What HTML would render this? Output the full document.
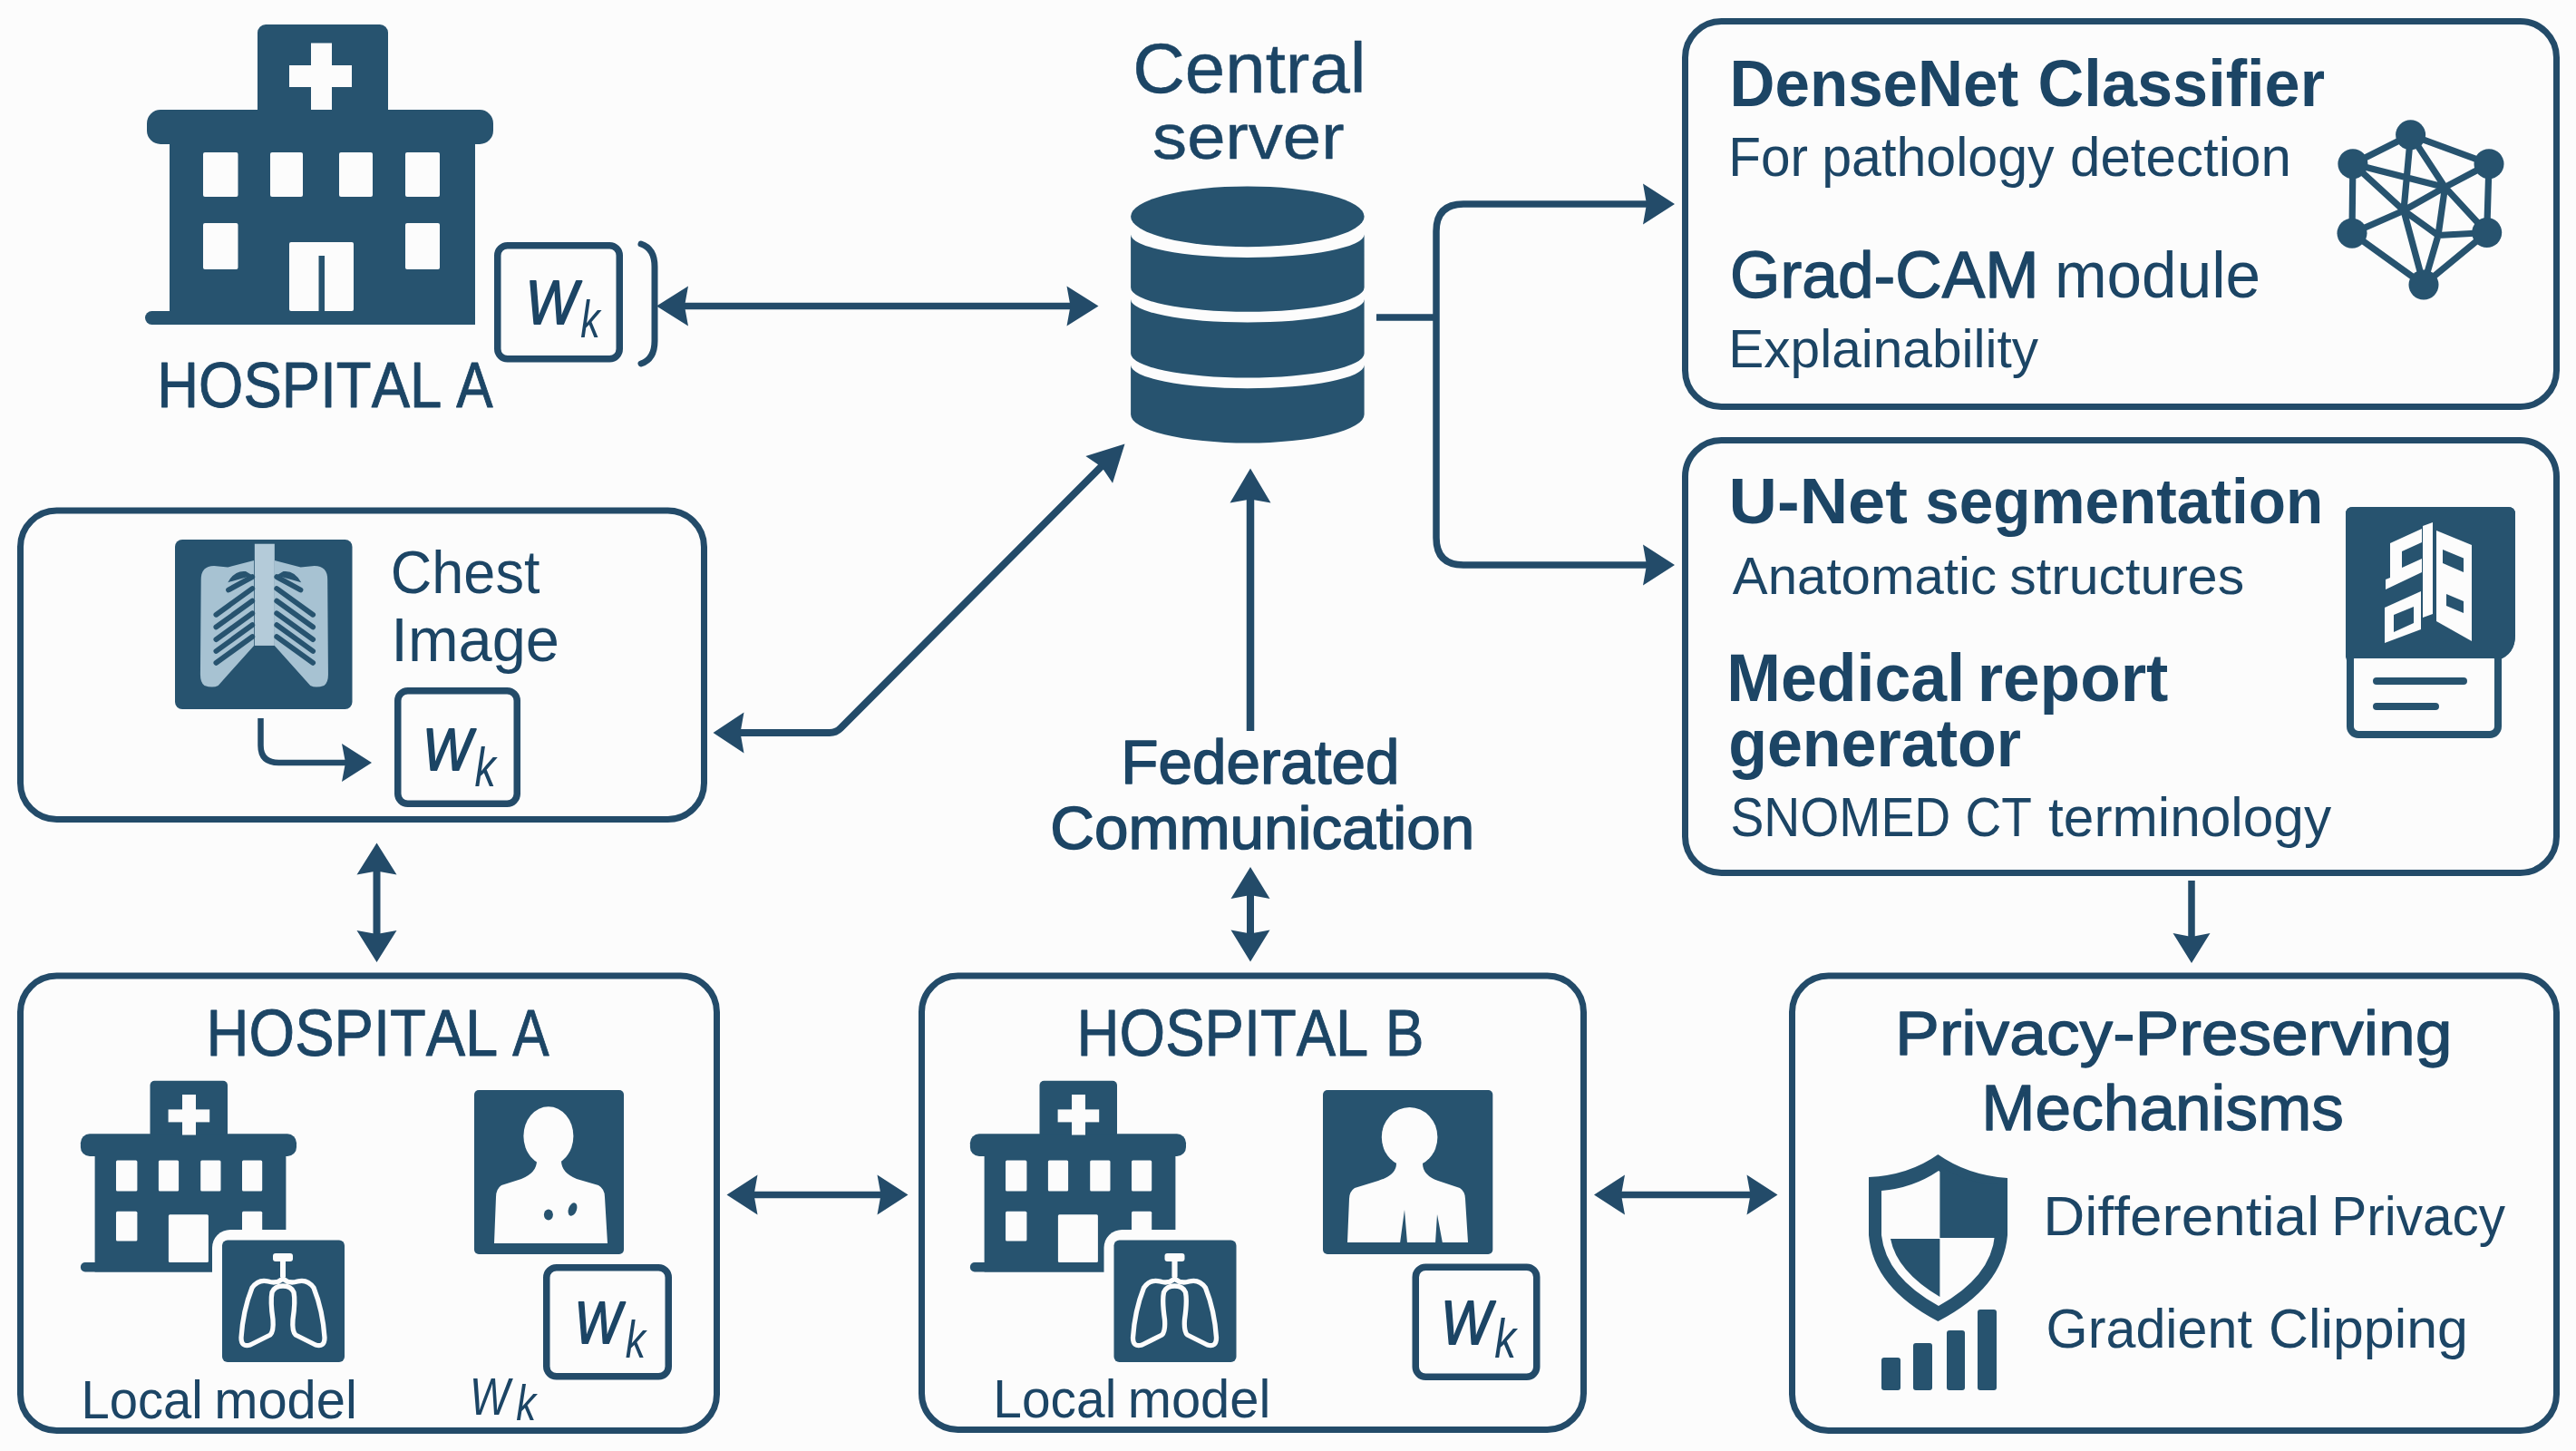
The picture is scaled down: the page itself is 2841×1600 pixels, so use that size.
<!DOCTYPE html>
<html><head><meta charset="utf-8"><style>
html,body{margin:0;padding:0;background:#fcfcfc;}
svg{display:block;}
text{font-family:"Liberation Sans",sans-serif;font-kerning:none;font-variant-ligatures:none;}
</style></head><body>
<svg width="2841" height="1600" viewBox="0 0 2841 1600">
<rect width="2841" height="1600" fill="#fcfcfc"/>
<rect x="1858.5" y="23.5" width="961" height="425" rx="40" fill="none" stroke="#234b69" stroke-width="7"/>
<rect x="1858.5" y="485.5" width="961" height="477" rx="40" fill="none" stroke="#234b69" stroke-width="7"/>
<rect x="22.5" y="563.0" width="754" height="340.5" rx="40" fill="none" stroke="#234b69" stroke-width="7"/>
<rect x="22.5" y="1076.0" width="768" height="501.5" rx="40" fill="none" stroke="#234b69" stroke-width="7"/>
<rect x="1016.5" y="1076.0" width="730" height="500.5" rx="40" fill="none" stroke="#234b69" stroke-width="7"/>
<rect x="1976.5" y="1076.0" width="843" height="501.5" rx="40" fill="none" stroke="#234b69" stroke-width="7"/>
<line x1="740" y1="337.5" x2="1195" y2="337.5" stroke="#234b69" stroke-width="7.5"/>
<polygon points="724.00,337.50 759.00,315.50 755.00,337.50 759.00,359.50" fill="#234b69"/>
<polygon points="1211.50,337.50 1176.50,359.50 1180.50,337.50 1176.50,315.50" fill="#234b69"/>
<path d="M707 269 Q722 274 722 294 V376 Q722 396 707 401" fill="none" stroke="#234b69" stroke-width="7" stroke-linecap="round"/>
<path d="M1518 350 H1584 M1820 225 H1614 Q1584 225 1584 255 V593 Q1584 623 1614 623 H1820" fill="none" stroke="#234b69" stroke-width="7.5"/>
<polygon points="1847.00,225.00 1812.00,247.50 1816.00,225.00 1812.00,202.50" fill="#234b69"/>
<polygon points="1847.00,623.00 1812.00,645.50 1816.00,623.00 1812.00,600.50" fill="#234b69"/>
<path d="M800 808 H915 Q922 808 927 803 L1222 507" fill="none" stroke="#234b69" stroke-width="8"/>
<polygon points="786.50,808.00 820.50,785.50 816.50,808.00 820.50,830.50" fill="#234b69"/>
<polygon points="1240.50,489.50 1227.06,532.63 1215.04,514.96 1197.37,502.94" fill="#234b69"/>
<line x1="1379" y1="806" x2="1379" y2="540" stroke="#234b69" stroke-width="8.5"/>
<polygon points="1379.00,516.50 1401.50,554.50 1379.00,550.50 1356.50,554.50" fill="#234b69"/>
<line x1="1379" y1="975" x2="1379" y2="1040" stroke="#234b69" stroke-width="8"/>
<polygon points="1379.00,956.00 1400.50,991.00 1379.00,987.00 1357.50,991.00" fill="#234b69"/>
<polygon points="1379.00,1060.50 1357.50,1025.50 1379.00,1029.50 1400.50,1025.50" fill="#234b69"/>
<line x1="415.5" y1="950" x2="415.5" y2="1040" stroke="#234b69" stroke-width="8"/>
<polygon points="415.50,929.50 437.50,964.50 415.50,960.50 393.50,964.50" fill="#234b69"/>
<polygon points="415.50,1061.00 393.50,1026.00 415.50,1030.00 437.50,1026.00" fill="#234b69"/>
<line x1="820" y1="1317.5" x2="985" y2="1317.5" stroke="#234b69" stroke-width="7.5"/>
<polygon points="801.50,1317.50 835.50,1295.50 831.50,1317.50 835.50,1339.50" fill="#234b69"/>
<polygon points="1001.50,1317.50 967.50,1339.50 971.50,1317.50 967.50,1295.50" fill="#234b69"/>
<line x1="1775" y1="1317.5" x2="1945" y2="1317.5" stroke="#234b69" stroke-width="7.5"/>
<polygon points="1758.00,1317.50 1792.00,1295.50 1788.00,1317.50 1792.00,1339.50" fill="#234b69"/>
<polygon points="1960.50,1317.50 1926.50,1339.50 1930.50,1317.50 1926.50,1295.50" fill="#234b69"/>
<line x1="2417" y1="971" x2="2417" y2="1040" stroke="#234b69" stroke-width="7.5"/>
<polygon points="2417.00,1062.00 2396.50,1029.00 2417.00,1033.00 2437.50,1029.00" fill="#234b69"/>
<path d="M287.5 792 V822 Q287.5 841 307.5 841 H390" fill="none" stroke="#234b69" stroke-width="6.5"/>
<polygon points="410.00,841.00 377.00,862.00 381.00,841.00 377.00,820.00" fill="#234b69"/>
<rect x="284.00" y="27.00" width="144.00" height="108.00" rx="9" fill="#27536f"/>
<rect x="162.00" y="121.00" width="382.00" height="38.00" rx="15" fill="#27536f"/>
<rect x="187.00" y="150.00" width="337.00" height="208.00" rx="0" fill="#27536f"/>
<rect x="160.00" y="343.00" width="364.00" height="15.00" rx="7.5" fill="#27536f"/>
<rect x="319.00" y="72.00" width="69.00" height="24.00" rx="0" fill="#fcfcfc"/>
<rect x="343.00" y="47.50" width="23.00" height="73.50" rx="0" fill="#fcfcfc"/>
<rect x="224.00" y="168.00" width="38.50" height="49.00" rx="2" fill="#fcfcfc"/>
<rect x="298.00" y="168.00" width="36.00" height="49.00" rx="2" fill="#fcfcfc"/>
<rect x="374.00" y="168.00" width="37.00" height="49.00" rx="2" fill="#fcfcfc"/>
<rect x="447.00" y="168.00" width="38.00" height="49.00" rx="2" fill="#fcfcfc"/>
<rect x="224.00" y="246.00" width="38.50" height="51.00" rx="2" fill="#fcfcfc"/>
<rect x="447.00" y="246.00" width="38.00" height="51.00" rx="2" fill="#fcfcfc"/>
<rect x="319.00" y="267.00" width="71.00" height="76.00" rx="2" fill="#fcfcfc"/>
<rect x="351.50" y="282.00" width="6.50" height="61.00" rx="0" fill="#27536f"/>
<ellipse cx="1375.85" cy="238.8" rx="128.75" ry="33.4" fill="#27536f"/>
<path d="M1247.1 258.4 A128.75 25.600000000000023 0 0 0 1504.6 258.4 V317 A128.75 26.80000000000001 0 0 1 1247.1 317 Z" fill="#27536f"/>
<path d="M1247.1 330 A128.75 25.600000000000023 0 0 0 1504.6 330 V389.8 A128.75 26.69999999999999 0 0 1 1247.1 389.8 Z" fill="#27536f"/>
<path d="M1247.1 402.6 A128.75 25.599999999999966 0 0 0 1504.6 402.6 V457 A128.75 31.5 0 0 1 1247.1 457 Z" fill="#27536f"/>
<path d="M2658.6 148.8 L2594.9 180.7 M2658.6 148.8 L2745 180.7 M2594.9 180.7 L2594 257.2 M2745 180.7 L2742.7 256.5 M2594 257.2 L2673 314 M2742.7 256.5 L2673 314 M2594.9 180.7 L2696.5 206.4 M2658.6 148.8 L2651 232.2 M2658.6 148.8 L2696.5 206.4 M2745 180.7 L2696.5 206.4 M2594.9 180.7 L2651 232.2 M2594 257.2 L2651 232.2 M2651 232.2 L2696.5 206.4 M2651 232.2 L2673 314 M2651 232.2 L2689 259.5 M2696.5 206.4 L2689 259.5 M2696.5 206.4 L2742.7 256.5 M2689 259.5 L2742.7 256.5 M2689 259.5 L2673 314" stroke="#27536f" stroke-width="7.2" stroke-linecap="round" fill="none"/>
<circle cx="2658.6" cy="148.8" r="16.5" fill="#27536f"/>
<circle cx="2594.9" cy="180.7" r="16.5" fill="#27536f"/>
<circle cx="2745" cy="180.7" r="16.5" fill="#27536f"/>
<circle cx="2594" cy="257.2" r="16.5" fill="#27536f"/>
<circle cx="2742.7" cy="256.5" r="16.5" fill="#27536f"/>
<circle cx="2673" cy="314" r="16.5" fill="#27536f"/>
<path d="M2587 724 V567 Q2587 559 2595 559 H2766 Q2774 559 2774 567 V700 Q2774 722 2755 728 L2588 728 Z" fill="#27536f"/>
<rect x="2592" y="718" width="163" height="92" rx="9" fill="#fcfcfc" stroke="#27536f" stroke-width="8"/>
<path d="M2587 724 V567 Q2587 559 2595 559 H2766 Q2774 559 2774 567 V700 Q2774 722 2755 726 L2588 726 Z" fill="#27536f"/>
<path d="M2621 751 H2717 M2621 779 H2686" stroke="#27536f" stroke-width="8" stroke-linecap="round"/>
<polygon points="2672.0,580.0 2683.0,576.0 2683.0,677.0 2672.0,681.0" fill="#fcfcfc"/>
<polygon points="2687.0,585.0 2726.0,601.0 2726.0,707.0 2687.0,685.0" fill="#fcfcfc"/>
<polygon points="2694.0,606.0 2717.0,615.6 2717.0,631.0 2694.0,621.0" fill="#27536f"/>
<polygon points="2698.0,655.0 2717.0,663.0 2717.0,676.0 2698.0,668.0" fill="#27536f"/>
<polygon points="2630.0,670.0 2670.0,652.0 2670.0,694.0 2630.0,709.0" fill="#fcfcfc"/>
<polygon points="2640.0,678.0 2662.0,669.0 2662.0,687.0 2640.0,697.0" fill="#27536f"/>
<polygon points="2636.0,599.0 2671.0,583.0 2671.0,598.0 2649.0,608.0 2649.0,626.0 2671.0,616.0 2671.0,631.0 2631.0,650.0 2631.0,639.0 2636.0,637.0" fill="#fcfcfc"/>
<rect x="193.00" y="595.00" width="195.50" height="187.00" rx="8" fill="#27536f"/>
<path d="M221.69825625473845 639.1357088703563 Q221.69825625473845 623.972706595906 236.10310841546627 623.972706595906 L251.26611068991662 625.489006823351 L280.07581501137224 617.9075056861259 V711.918119787718 L240.65200909780137 755.890826383624 Q234.58680818802122 758.923426838514 225.48900682335102 755.890826383624 Q220.94010614101592 752.8582259287339 220.94010614101592 743.7604245640637 Z" fill="#a7c2d2"/>
<path d="M361.1978771796816 639.1357088703563 Q361.1978771796816 623.972706595906 346.79302501895376 623.972706595906 L331.63002274450344 625.489006823351 L302.82031842304775 617.9075056861259 V711.918119787718 L342.24412433661865 755.890826383624 Q348.30932524639877 758.923426838514 357.407126611069 755.890826383624 Q361.9560272934041 752.8582259287339 361.9560272934041 743.7604245640637 Z" fill="#a7c2d2"/>
<rect x="280.83" y="599.71" width="21.99" height="112.21" rx="0" fill="#b4cbd9"/>
<path d="M278.2562547384382 636.1031084154663 L252.02426080363912 650.5079605761941 M305.24639878695984 636.1031084154663 L331.47839272175895 650.5079605761941 M278.2562547384382 648.9916603487491 L238.37755875663382 677.8013646702047 M305.24639878695984 648.9916603487491 L345.12509476876426 677.8013646702047 M278.2562547384382 662.6383623957544 L238.37755875663382 691.44806671721 M305.24639878695984 662.6383623957544 L345.12509476876426 691.44806671721 M278.2562547384382 676.2850644427597 L238.37755875663382 705.0947687642154 M305.24639878695984 676.2850644427597 L345.12509476876426 705.0947687642154 M278.2562547384382 689.1736163760424 L238.37755875663382 717.9833206974981 M305.24639878695984 689.1736163760424 L345.12509476876426 717.9833206974981 M278.2562547384382 702.0621683093252 L238.37755875663382 730.8718726307809 M305.24639878695984 702.0621683093252 L345.12509476876426 730.8718726307809" stroke="#27536f" stroke-width="5.8" stroke-linecap="round"/>
<path d="M251.26611068991662 642.1683093252464 Q258.8476118271418 628.521607278241 270.97801364670204 630.0379075056861 L278.5595147839272 634.5868081880212 Z M332.23654283548143 642.1683093252464 Q324.65504169825624 628.521607278241 312.524639878696 630.0379075056861 L304.9431387414708 634.5868081880212 Z" fill="#27536f"/>
<rect x="165.50" y="1191.70" width="85.50" height="63.30" rx="5" fill="#27536f"/>
<rect x="88.90" y="1250.30" width="238.10" height="24.70" rx="10" fill="#27536f"/>
<rect x="104.60" y="1270.00" width="210.80" height="132.50" rx="0" fill="#27536f"/>
<rect x="88.90" y="1392.00" width="226.10" height="10.50" rx="5" fill="#27536f"/>
<rect x="185.60" y="1223.40" width="45.60" height="14.00" rx="0" fill="#fcfcfc"/>
<rect x="201.00" y="1207.00" width="15.00" height="44.50" rx="0" fill="#fcfcfc"/>
<rect x="128.00" y="1279.50" width="23.40" height="34.00" rx="1.5" fill="#fcfcfc"/>
<rect x="174.90" y="1279.50" width="22.20" height="34.00" rx="1.5" fill="#fcfcfc"/>
<rect x="221.20" y="1279.50" width="22.30" height="34.00" rx="1.5" fill="#fcfcfc"/>
<rect x="267.00" y="1279.50" width="22.20" height="34.00" rx="1.5" fill="#fcfcfc"/>
<rect x="128.00" y="1335.80" width="23.40" height="32.80" rx="1.5" fill="#fcfcfc"/>
<rect x="267.00" y="1335.80" width="22.20" height="32.80" rx="1.5" fill="#fcfcfc"/>
<rect x="185.90" y="1339.30" width="44.00" height="52.70" rx="1.5" fill="#fcfcfc"/>
<rect x="234.00" y="1356.00" width="157.00" height="157.00" rx="20" fill="#fcfcfc"/>
<rect x="245.00" y="1367.40" width="135.00" height="134.60" rx="6" fill="#27536f"/>
<path d="M312 1386 V1410 M312 1410 Q305 1416 296 1413 Q285 1410 278 1420 Q268 1445 266 1475 Q266 1486 276 1483 L298 1472 Q302 1468 301 1455 Q298 1435 300 1425 Q303 1418 312 1418 M312 1410 Q319 1416 328 1413 Q339 1410 346 1420 Q356 1445 358 1475 Q358 1486 348 1483 L326 1472 Q322 1468 323 1455 Q326 1435 324 1425 Q321 1418 312 1418" fill="none" stroke="#fcfcfc" stroke-width="5.3" stroke-linecap="round" stroke-linejoin="round"/>
<rect x="301.00" y="1382.00" width="22.00" height="9.00" rx="3" fill="#fcfcfc"/>
<rect x="309.00" y="1386.00" width="6.00" height="22.00" rx="0" fill="#fcfcfc"/>
<rect x="1146.50" y="1191.70" width="85.50" height="63.30" rx="5" fill="#27536f"/>
<rect x="1069.90" y="1250.30" width="238.10" height="24.70" rx="10" fill="#27536f"/>
<rect x="1085.60" y="1270.00" width="210.80" height="132.50" rx="0" fill="#27536f"/>
<rect x="1069.90" y="1392.00" width="226.10" height="10.50" rx="5" fill="#27536f"/>
<rect x="1166.60" y="1223.40" width="45.60" height="14.00" rx="0" fill="#fcfcfc"/>
<rect x="1182.00" y="1207.00" width="15.00" height="44.50" rx="0" fill="#fcfcfc"/>
<rect x="1109.00" y="1279.50" width="23.40" height="34.00" rx="1.5" fill="#fcfcfc"/>
<rect x="1155.90" y="1279.50" width="22.20" height="34.00" rx="1.5" fill="#fcfcfc"/>
<rect x="1202.20" y="1279.50" width="22.30" height="34.00" rx="1.5" fill="#fcfcfc"/>
<rect x="1248.00" y="1279.50" width="22.20" height="34.00" rx="1.5" fill="#fcfcfc"/>
<rect x="1109.00" y="1335.80" width="23.40" height="32.80" rx="1.5" fill="#fcfcfc"/>
<rect x="1248.00" y="1335.80" width="22.20" height="32.80" rx="1.5" fill="#fcfcfc"/>
<rect x="1166.90" y="1339.30" width="44.00" height="52.70" rx="1.5" fill="#fcfcfc"/>
<rect x="1217.50" y="1356.00" width="157.00" height="157.00" rx="20" fill="#fcfcfc"/>
<rect x="1228.50" y="1367.40" width="135.00" height="134.60" rx="6" fill="#27536f"/>
<path d="M1295.5 1386 V1410 M1295.5 1410 Q1288.5 1416 1279.5 1413 Q1268.5 1410 1261.5 1420 Q1251.5 1445 1249.5 1475 Q1249.5 1486 1259.5 1483 L1281.5 1472 Q1285.5 1468 1284.5 1455 Q1281.5 1435 1283.5 1425 Q1286.5 1418 1295.5 1418 M1295.5 1410 Q1302.5 1416 1311.5 1413 Q1322.5 1410 1329.5 1420 Q1339.5 1445 1341.5 1475 Q1341.5 1486 1331.5 1483 L1309.5 1472 Q1305.5 1468 1306.5 1455 Q1309.5 1435 1307.5 1425 Q1304.5 1418 1295.5 1418" fill="none" stroke="#fcfcfc" stroke-width="5.3" stroke-linecap="round" stroke-linejoin="round"/>
<rect x="1284.50" y="1382.00" width="22.00" height="9.00" rx="3" fill="#fcfcfc"/>
<rect x="1292.50" y="1386.00" width="6.00" height="22.00" rx="0" fill="#fcfcfc"/>
<rect x="523.00" y="1202.00" width="165.00" height="181.00" rx="5" fill="#27536f"/>
<ellipse cx="604.9" cy="1252.7" rx="27.5" ry="32.5" fill="#fcfcfc"/>
<path d="M592 1280 Q592 1293 575 1300 L553 1307 Q547 1311 547 1320 L545 1371 H670 L667 1320 Q667 1311 660 1307 L636 1300 Q619 1293 619 1280 Z" fill="#fcfcfc"/>
<ellipse cx="604.9" cy="1339.5" rx="5" ry="6" fill="#27536f"/>
<ellipse cx="631.5" cy="1333.5" rx="4.5" ry="7.5" transform="rotate(20 631.5 1333.5)" fill="#27536f"/>
<rect x="1459.00" y="1202.00" width="187.30" height="181.00" rx="5" fill="#27536f"/>
<ellipse cx="1554.6" cy="1254" rx="30.8" ry="33" fill="#fcfcfc"/>
<path d="M1540 1283 Q1540 1296 1520 1302 L1494 1310 Q1488 1314 1488 1322 L1486 1370 H1619 L1616 1322 Q1616 1314 1610 1310 L1586 1302 Q1569 1296 1569 1283 Z" fill="#fcfcfc"/>
<path d="M1549 1334 L1552 1371 H1544 Z M1585 1339 L1583 1371 H1591 Z" fill="#27536f"/>
<path d="M2137.4 1273 Q2105 1296 2061 1298 V1362 Q2066 1420 2137.4 1457 Q2209 1420 2214 1362 V1299 Q2170 1296 2137.4 1273 Z" fill="#27536f"/>
<path d="M2138 1291 Q2110 1310 2075 1313 V1362 Q2080 1408 2138 1440 Q2196 1408 2200 1362 V1313 Q2166 1310 2138 1291 Z" fill="#fcfcfc"/>
<path d="M2139.4 1285 Q2166 1305 2205 1306 V1365 H2139.4 Z" fill="#27536f"/>
<path d="M2085 1366 H2139.4 V1430 Q2092 1402 2085 1366 Z" fill="#27536f"/>
<rect x="2075.00" y="1497.00" width="21.00" height="36.00" rx="3" fill="#27536f"/>
<rect x="2110.00" y="1481.00" width="21.00" height="52.00" rx="3" fill="#27536f"/>
<rect x="2147.00" y="1467.00" width="20.00" height="66.00" rx="3" fill="#27536f"/>
<rect x="2181.00" y="1444.00" width="21.00" height="89.00" rx="3" fill="#27536f"/>
<text x="1249.20" y="101.60" font-size="77.40" font-weight="normal" font-style="normal" textLength="257.40" lengthAdjust="spacingAndGlyphs" fill="#1c4565" stroke="#1c4565" stroke-width="0.5" stroke-linejoin="round">Central</text>
<text x="1271.13" y="175.00" font-size="70.86" font-weight="normal" font-style="normal" textLength="211.38" lengthAdjust="spacingAndGlyphs" fill="#1c4565" stroke="#1c4565" stroke-width="0.5" stroke-linejoin="round">server</text>
<text x="173.24" y="449.00" font-size="71.29" font-weight="normal" font-style="normal" textLength="314.12" lengthAdjust="spacingAndGlyphs" fill="#1c4565" stroke="#1c4565" stroke-width="0.9" stroke-linejoin="round">HOSPITAL</text>
<text x="503.33" y="449.00" font-size="71.29" font-weight="normal" font-style="normal" textLength="40.34" lengthAdjust="spacingAndGlyphs" fill="#1c4565" stroke="#1c4565" stroke-width="0.9" stroke-linejoin="round">A</text>
<text x="1907.58" y="116.50" font-size="71.66" font-weight="bold" font-style="normal" textLength="318.77" lengthAdjust="spacingAndGlyphs" fill="#1c4565">DenseNet</text>
<text x="2247.62" y="116.50" font-size="71.66" font-weight="bold" font-style="normal" textLength="316.45" lengthAdjust="spacingAndGlyphs" fill="#1c4565">Classifier</text>
<text x="1906.20" y="193.80" font-size="60.32" font-weight="normal" font-style="normal" textLength="87.77" lengthAdjust="spacingAndGlyphs" fill="#1c4565">For</text>
<text x="2009.19" y="193.80" font-size="60.32" font-weight="normal" font-style="normal" textLength="256.43" lengthAdjust="spacingAndGlyphs" fill="#1c4565">pathology</text>
<text x="2282.98" y="193.80" font-size="60.32" font-weight="normal" font-style="normal" textLength="243.93" lengthAdjust="spacingAndGlyphs" fill="#1c4565">detection</text>
<text x="1908.11" y="327.70" font-size="73.11" font-weight="normal" font-style="normal" textLength="340.63" lengthAdjust="spacingAndGlyphs" fill="#1c4565" stroke="#1c4565" stroke-width="1.4" stroke-linejoin="round">Grad-CAM</text>
<text x="2265.90" y="327.70" font-size="71.95" font-weight="normal" font-style="normal" textLength="227.18" lengthAdjust="spacingAndGlyphs" fill="#1c4565">module</text>
<text x="1906.19" y="405.00" font-size="59.59" font-weight="normal" font-style="normal" textLength="341.92" lengthAdjust="spacingAndGlyphs" fill="#1c4565">Explainability</text>
<text x="1906.56" y="577.40" font-size="71.22" font-weight="bold" font-style="normal" textLength="197.35" lengthAdjust="spacingAndGlyphs" fill="#1c4565">U-Net</text>
<text x="2123.13" y="577.40" font-size="71.22" font-weight="bold" font-style="normal" textLength="439.06" lengthAdjust="spacingAndGlyphs" fill="#1c4565">segmentation</text>
<text x="1910.89" y="655.00" font-size="58.14" font-weight="normal" font-style="normal" textLength="291.15" lengthAdjust="spacingAndGlyphs" fill="#1c4565">Anatomatic</text>
<text x="2216.36" y="655.00" font-size="58.14" font-weight="normal" font-style="normal" textLength="258.77" lengthAdjust="spacingAndGlyphs" fill="#1c4565">structures</text>
<text x="1904.21" y="773.00" font-size="74.13" font-weight="bold" font-style="normal" textLength="262.87" lengthAdjust="spacingAndGlyphs" fill="#1c4565">Medical</text>
<text x="2180.69" y="773.00" font-size="74.13" font-weight="bold" font-style="normal" textLength="210.70" lengthAdjust="spacingAndGlyphs" fill="#1c4565">report</text>
<text x="1906.13" y="844.50" font-size="74.13" font-weight="bold" font-style="normal" textLength="322.93" lengthAdjust="spacingAndGlyphs" fill="#1c4565">generator</text>
<text x="1908.49" y="922.30" font-size="60.32" font-weight="normal" font-style="normal" textLength="242.76" lengthAdjust="spacingAndGlyphs" fill="#1c4565">SNOMED</text>
<text x="2167.61" y="922.30" font-size="60.32" font-weight="normal" font-style="normal" textLength="73.36" lengthAdjust="spacingAndGlyphs" fill="#1c4565">CT</text>
<text x="2259.09" y="922.30" font-size="60.32" font-weight="normal" font-style="normal" textLength="312.03" lengthAdjust="spacingAndGlyphs" fill="#1c4565">terminology</text>
<text x="2090.14" y="1163.40" font-size="68.82" font-weight="normal" font-style="normal" textLength="614.43" lengthAdjust="spacingAndGlyphs" fill="#1c4565" stroke="#1c4565" stroke-width="1.3" stroke-linejoin="round">Privacy-Preserving</text>
<text x="2185.31" y="1246.00" font-size="71.00" font-weight="normal" font-style="normal" textLength="399.61" lengthAdjust="spacingAndGlyphs" fill="#1c4565" stroke="#1c4565" stroke-width="1.3" stroke-linejoin="round">Mechanisms</text>
<text x="2253.27" y="1361.50" font-size="60.32" font-weight="normal" font-style="normal" textLength="305.00" lengthAdjust="spacingAndGlyphs" fill="#1c4565">Differential</text>
<text x="2571.20" y="1361.50" font-size="60.32" font-weight="normal" font-style="normal" textLength="191.92" lengthAdjust="spacingAndGlyphs" fill="#1c4565">Privacy</text>
<text x="2256.62" y="1486.00" font-size="60.32" font-weight="normal" font-style="normal" textLength="227.31" lengthAdjust="spacingAndGlyphs" fill="#1c4565">Gradient</text>
<text x="2501.91" y="1486.00" font-size="60.32" font-weight="normal" font-style="normal" textLength="220.02" lengthAdjust="spacingAndGlyphs" fill="#1c4565">Clipping</text>
<text x="227.62" y="1164.00" font-size="72.02" font-weight="normal" font-style="normal" textLength="321.59" lengthAdjust="spacingAndGlyphs" fill="#1c4565" stroke="#1c4565" stroke-width="0.9" stroke-linejoin="round">HOSPITAL</text>
<text x="565.33" y="1164.00" font-size="72.02" font-weight="normal" font-style="normal" textLength="40.34" lengthAdjust="spacingAndGlyphs" fill="#1c4565" stroke="#1c4565" stroke-width="0.9" stroke-linejoin="round">A</text>
<text x="1187.62" y="1164.00" font-size="72.02" font-weight="normal" font-style="normal" textLength="321.59" lengthAdjust="spacingAndGlyphs" fill="#1c4565" stroke="#1c4565" stroke-width="0.9" stroke-linejoin="round">HOSPITAL</text>
<text x="1527.69" y="1164.00" font-size="72.02" font-weight="normal" font-style="normal" textLength="42.73" lengthAdjust="spacingAndGlyphs" fill="#1c4565" stroke="#1c4565" stroke-width="0.9" stroke-linejoin="round">B</text>
<text x="89.39" y="1564.00" font-size="58.87" font-weight="normal" font-style="normal" textLength="134.37" lengthAdjust="spacingAndGlyphs" fill="#1c4565">Local</text>
<text x="236.15" y="1564.00" font-size="58.87" font-weight="normal" font-style="normal" textLength="157.72" lengthAdjust="spacingAndGlyphs" fill="#1c4565">model</text>
<text x="1095.33" y="1562.50" font-size="58.87" font-weight="normal" font-style="normal" textLength="135.97" lengthAdjust="spacingAndGlyphs" fill="#1c4565">Local</text>
<text x="1243.65" y="1562.50" font-size="58.87" font-weight="normal" font-style="normal" textLength="157.72" lengthAdjust="spacingAndGlyphs" fill="#1c4565">model</text>
<text x="1236.22" y="863.60" font-size="68.10" font-weight="normal" font-style="normal" textLength="307.38" lengthAdjust="spacingAndGlyphs" fill="#1c4565" stroke="#1c4565" stroke-width="1.5" stroke-linejoin="round">Federated</text>
<text x="1158.33" y="935.50" font-size="66.50" font-weight="normal" font-style="normal" textLength="467.79" lengthAdjust="spacingAndGlyphs" fill="#1c4565" stroke="#1c4565" stroke-width="1.5" stroke-linejoin="round">Communication</text>
<text x="430.80" y="654.40" font-size="67.30" font-weight="normal" font-style="normal" textLength="164.66" lengthAdjust="spacingAndGlyphs" fill="#1c4565">Chest</text>
<text x="431.34" y="729.20" font-size="69.04" font-weight="normal" font-style="normal" textLength="185.63" lengthAdjust="spacingAndGlyphs" fill="#1c4565">Image</text>
<rect x="548.75" y="270.75" width="134.5" height="125.0" rx="11" fill="none" stroke="#234b69" stroke-width="7.5"/>
<text x="579.66" y="356.60" font-size="68.46" font-weight="normal" font-style="italic" textLength="57.17" lengthAdjust="spacingAndGlyphs" fill="#1c4565" stroke="#1c4565" stroke-width="1.8" stroke-linejoin="round">W</text>
<text x="640.29" y="372.00" font-size="58.14" font-weight="normal" font-style="italic" textLength="21.51" lengthAdjust="spacingAndGlyphs" fill="#1c4565">k</text>
<rect x="438.75" y="761.75" width="131.5" height="124.5" rx="11" fill="none" stroke="#234b69" stroke-width="7.5"/>
<text x="466.13" y="848.70" font-size="65.55" font-weight="normal" font-style="italic" textLength="54.25" lengthAdjust="spacingAndGlyphs" fill="#1c4565" stroke="#1c4565" stroke-width="1.8" stroke-linejoin="round">W</text>
<text x="523.43" y="867.10" font-size="61.05" font-weight="normal" font-style="italic" textLength="23.32" lengthAdjust="spacingAndGlyphs" fill="#1c4565">k</text>
<rect x="602.75" y="1397.75" width="134.5" height="120.0" rx="11" fill="none" stroke="#234b69" stroke-width="7.5"/>
<text x="633.77" y="1480.80" font-size="64.83" font-weight="normal" font-style="italic" textLength="51.63" lengthAdjust="spacingAndGlyphs" fill="#1c4565" stroke="#1c4565" stroke-width="1.8" stroke-linejoin="round">W</text>
<text x="689.86" y="1496.70" font-size="57.27" font-weight="normal" font-style="italic" textLength="22.27" lengthAdjust="spacingAndGlyphs" fill="#1c4565">k</text>
<rect x="1561.25" y="1397.25" width="133.5" height="121.0" rx="11" fill="none" stroke="#234b69" stroke-width="7.5"/>
<text x="1589.30" y="1482.00" font-size="68.46" font-weight="normal" font-style="italic" textLength="55.66" lengthAdjust="spacingAndGlyphs" fill="#1c4565" stroke="#1c4565" stroke-width="1.8" stroke-linejoin="round">W</text>
<text x="1648.21" y="1497.00" font-size="61.05" font-weight="normal" font-style="italic" textLength="23.79" lengthAdjust="spacingAndGlyphs" fill="#1c4565">k</text>
<text x="517.96" y="1560.00" font-size="57.70" font-weight="normal" font-style="italic" textLength="44.17" lengthAdjust="spacingAndGlyphs" fill="#1c4565">W</text>
<text x="569.27" y="1566.20" font-size="55.67" font-weight="normal" font-style="italic" textLength="21.89" lengthAdjust="spacingAndGlyphs" fill="#1c4565">k</text>
</svg></body></html>
